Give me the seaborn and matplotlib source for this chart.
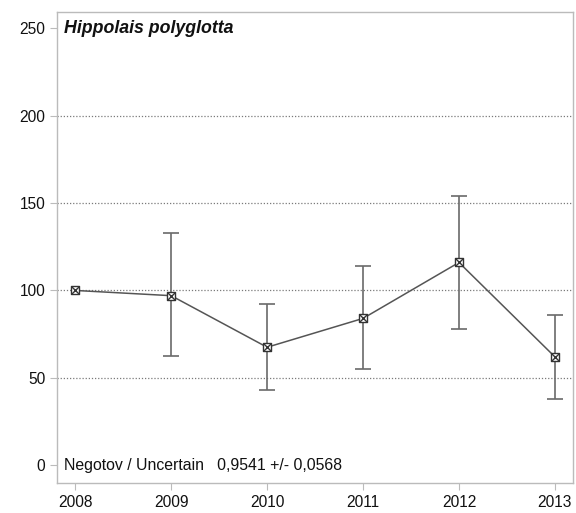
import matplotlib
matplotlib.use("Agg")
import matplotlib.pyplot as plt
import seaborn as sns
import pandas as pd
import numpy as np

# data
years = [2008, 2009, 2010, 2011, 2012, 2013]
index_values = [100, 97, 67.5, 84, 116, 62]
ci_lower = [100, 62.5, 43, 55, 78, 38]
ci_upper = [100, 133, 92, 114, 154, 86]
y_ticks = [0, 50, 100, 150, 200, 250]
grid_levels = [50, 100, 150, 200]
species = "Hippolais polyglotta"
trend_text = "Negotov / Uncertain   0,9541 +/- 0,0568"

df = pd.DataFrame({"year": years, "index": index_values,
                   "lo": ci_lower, "hi": ci_upper})

sns.set_style("white")
plt.rcParams['font.family'] = ['Liberation Sans', 'DejaVu Sans']

fig = plt.figure(figsize=(5.76, 5.13), dpi=100)
ax = fig.add_axes([0.099, 0.058, 0.896, 0.919])

# dotted grid lines
for level in grid_levels:
  ax.axhline(level, color="#7a7a7a", linestyle=(0, (1, 1.5)), linewidth=0.9, zorder=0)

# error bars (skip base year, it has none)
has_err = df["hi"] != df["lo"]
ax.errorbar(df.loc[has_err, "year"], df.loc[has_err, "index"],
            yerr=[df.loc[has_err, "index"] - df.loc[has_err, "lo"],
                  df.loc[has_err, "hi"] - df.loc[has_err, "index"]],
            fmt="none", ecolor="#6a6a6a", elinewidth=1.2, capsize=6, capthick=1.2, zorder=2)

sns.lineplot(data=df, x="year", y="index", color="#555555", linewidth=1.1, ax=ax, zorder=3)
sns.scatterplot(data=df, x="year", y="index", marker="s", s=40, facecolor="white",
                edgecolor="#333333", linewidth=1.0, ax=ax, zorder=4)
sns.scatterplot(data=df, x="year", y="index", marker="x", s=28, color="#333333",
                linewidth=1.0, ax=ax, zorder=5)

ax.set_xlim(2007.81, 2013.19)
ax.set_ylim(-10.3, 259.4)
ax.set_xticks(years)
ax.set_yticks(y_ticks)
ax.tick_params(axis="both", labelsize=11.2, length=5, width=0.8, color="#bbbbbb",
               direction="out", left=True, bottom=True, labelcolor="#111111")
ax.set_xlabel("")
ax.set_ylabel("")
for spine in ax.spines.values():
  spine.set_color("#bbbbbb")
  spine.set_linewidth(1.0)

ax.text(2007.88, 250, species, fontsize=12.8, fontweight="bold", fontstyle="italic",
        va="center", ha="left", color="#111111")
ax.text(2007.88, 0, trend_text, fontsize=11.4, va="center", ha="left", color="#111111")

fig.savefig("out.png", dpi=100)
